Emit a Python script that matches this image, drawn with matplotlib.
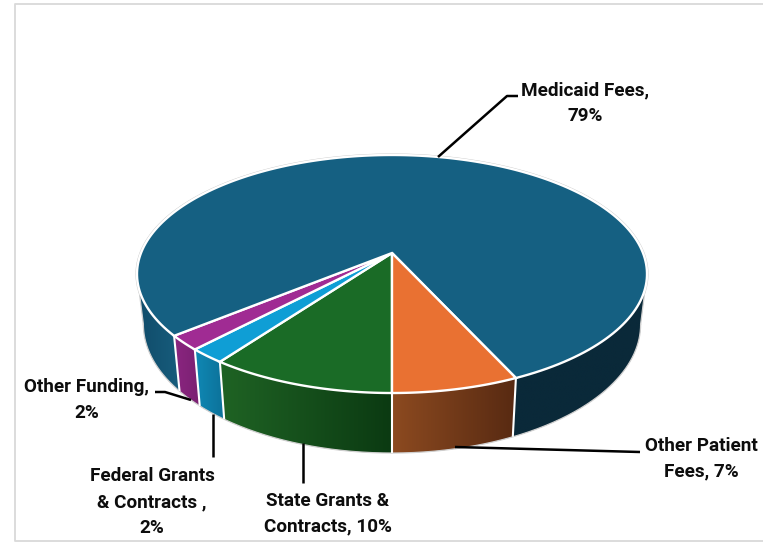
import numpy as np
import matplotlib.pyplot as plt
from matplotlib.patches import Polygon
from matplotlib.colors import to_rgb

plt.rcParams['font.family'] = ['Roboto', 'DejaVu Sans']

# slices clockwise from the front of the pie
names = ["State Grants &\nContracts", "Federal Grants\n& Contracts ", "Other Funding", "Medicaid Fees", "Other Patient\nFees"]
values = [10.0, 2.0, 2.0, 79.2, 6.8]
top_colors = ["#1a6b26", "#0f9ed5", "#a02b93", "#156082", "#e97132"]
wall_light = ["#1f6324", "#1088b4", "#8b2580", "#175c7c", "#8c4a20"]
wall_dark = ["#0b3a12", "#0c7199", "#7a2172", "#104c6a", "#582a12"]
wall_right = "#0a2939"
# break after the name or not
label_seps = [", ", ",\n", ",\n", ",\n", ", "]

# perspective of the disc, in pixels
cx, cy = 392, 253
A, B, k = 251, 115.3, 0.1765
bot_s, bot_cy, bot_B = 0.975, 301.6, 124.7
# angle where the wall meets the outline of the disc
tangent = np.arccos(k)


def project(theta, bottom=False):
    u, v = -np.sin(theta), np.cos(theta)
    x = A * u / (1 - k * v)
    w = v / (1 - k * v)
    if bottom:
        return cx + bot_s * x, bot_cy + bot_B * w
    return cx + x, cy + B * w


def gradient_wall(t, c0, c1):
    # horizontal gradient clipped to the wall between two rings
    x0, y0 = project(t)
    x1, y1 = project(t, True)
    xs = np.r_[x0, x1[::-1]]
    ys = np.r_[y0, y1[::-1]]
    clip = Polygon(np.c_[xs, ys], closed=True, transform=ax.transData, facecolor='none', edgecolor='none')
    ax.add_patch(clip)
    c0, c1 = np.array(to_rgb(c0)), np.array(to_rgb(c1))
    grad = c0 + (c1 - c0) * np.linspace(0, 1, 64)[:, None]
    im = ax.imshow(grad[None, :, :], extent=(xs.min(), xs.max(), ys.max(), ys.min()),
                   aspect='auto', interpolation='bilinear', zorder=2)
    im.set_clip_path(clip)
    return xs, ys


fig = plt.figure(figsize=(7.63, 5.42), dpi=100)
ax = fig.add_axes([0, 0, 1, 1])
ax.axis('off')

# frame
ax.plot([770, 14.5, 14.5, 770], [4, 4, 541, 541], color="#d9d9d9", lw=1.3)

edges = np.radians(np.cumsum([0] + values) / sum(values) * 360)

# side walls
for i in range(len(values)):
    t0, t1 = edges[i], edges[i + 1]
    if names[i] == "Medicaid Fees":
        # only the two ends of this wall can be seen, the right one is in shadow
        gradient_wall(np.linspace(t0, tangent, 100), wall_dark[i], wall_light[i])
        gradient_wall(np.linspace(2 * np.pi - tangent, t1, 300), wall_right, wall_right)
    else:
        gradient_wall(np.linspace(t0, t1, 60), wall_light[i], wall_dark[i])

# thin gray outline round the body
t = np.linspace(-tangent, tangent, 400)
ax.plot(*project(t, True), color="#cfcfcf", lw=0.9, zorder=3)
for e in (tangent, -tangent):
    xa, ya = project(e)
    xb, yb = project(e, True)
    ax.plot([xa, xb], [ya, yb], color="#cfcfcf", lw=0.9, zorder=3)
t = np.linspace(0, 2 * np.pi, 400)
ax.plot(*project(t), color="#c8c8c8", lw=2.2, zorder=1.5)

# white seams between the walls
for e in edges[:-1]:
    xa, ya = project(e)
    xb, yb = project(e, True)
    if np.cos(e) > -0.3:
        ax.plot([xa, xb], [ya, yb], color="white", lw=1.5, zorder=3, solid_capstyle='butt')

# top of the pie
for i in range(len(values)):
    t = np.linspace(edges[i], edges[i + 1], 200)
    x0, y0 = project(t)
    ax.fill(np.r_[cx, x0], np.r_[cy, y0], facecolor=top_colors[i], edgecolor="white", lw=1.7,
            joinstyle='miter', zorder=4)

# leader lines
leaders = [
    ([303, 303], [443, 483]),
    ([213, 213], [414, 457]),
    ([155, 165, 191], [392, 392, 400]),
    ([438, 507, 518], [157, 96, 96]),
    ([455, 640], [447, 452]),
]
for lx, ly in leaders:
    ax.plot(lx, ly, color="black", lw=1.8, zorder=5, solid_capstyle='butt')

# data labels
label_pos = [(328, 514), (152, 502), (87, 400), (585, 103), (701, 459)]
for name, val, sep, (px, py) in zip(names, values, label_seps, label_pos):
    ax.text(px, py, f"{name}{sep}{val:.0f}%", ha='center', va='center', fontsize=13.6, fontweight='bold',
            color="#0d0d0d", linespacing=1.55, zorder=6)

ax.set_xlim(0, 763)
ax.set_ylim(542, 0)
fig.savefig("out.png", dpi=100)
